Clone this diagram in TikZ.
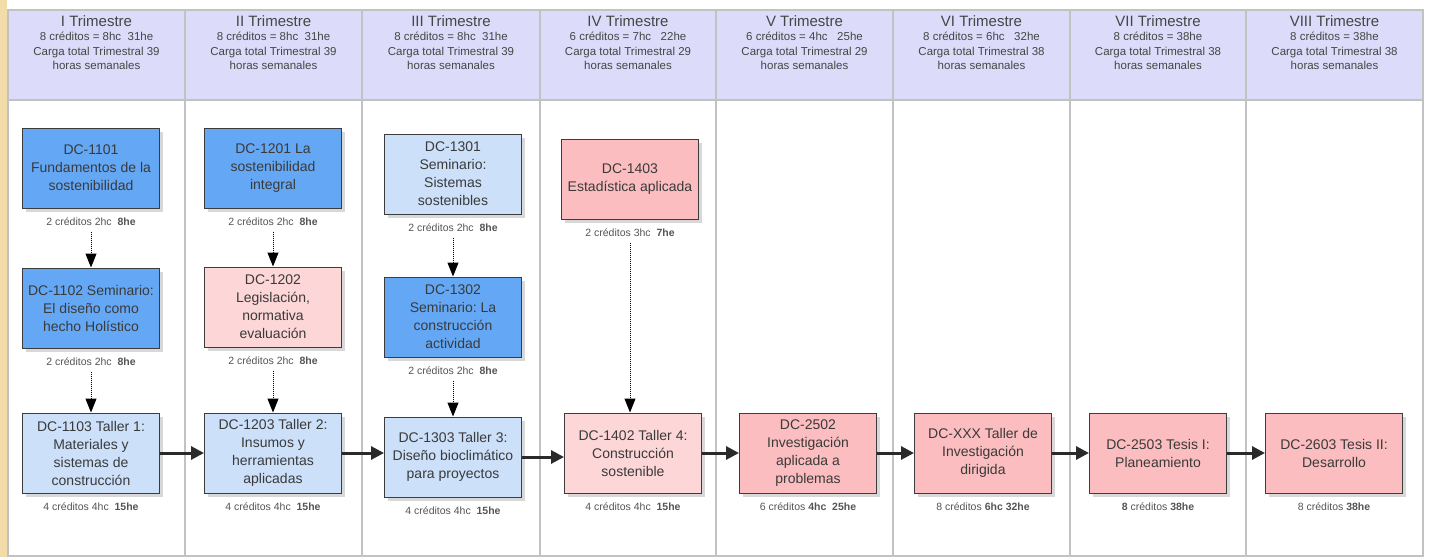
\documentclass[tikz,border=0pt]{standalone}
\usepackage{fontspec}
\setmainfont{Liberation Sans}
\usetikzlibrary{positioning,arrows.meta,shadows}
\frenchspacing

\definecolor{hdrfill}{HTML}{DCDCFA}
\definecolor{gridgray}{HTML}{C2C2C2}
\definecolor{beige}{HTML}{F2DCAA}
\definecolor{dblue}{HTML}{64A8F5}
\definecolor{lblue}{HTML}{CCE0FA}
\definecolor{rosa}{HTML}{FBBDBF}
\definecolor{lrosa}{HTML}{FDD6D7}
\definecolor{boxline}{HTML}{3C3C3C}
\definecolor{boxtext}{HTML}{3A3A3A}
\definecolor{hdrtext}{HTML}{454545}
\definecolor{credtext}{HTML}{555555}
\definecolor{arrowline}{HTML}{2A2A2A}

\tikzset{
	every picture/.append style={font=\fontsize{14}{18}\selectfont},
	mynode/.style = {rectangle, draw=boxline, line width=1pt, align=center, minimum width=137pt, minimum height=80pt, inner sep=2pt, text=boxtext, drop shadow={shadow xshift=3pt, shadow yshift=-4pt, opacity=0.3}},
	mynodeb/.style = {mynode, fill=dblue},
	mynodel/.style = {mynode, fill=lblue},
	mynoder/.style = {mynode, fill=rosa},
	mynodep/.style = {mynode, fill=lrosa},
	credit/.style = {inner sep=1pt, text=credtext, font=\fontsize{10.5}{12}\selectfont},
	header/.style = {anchor=north, align=center, text=hdrtext, font=\fontsize{11.5}{14.5}\selectfont},
	myedge/.style = {draw=black, densely dotted, line width=1pt, -{Triangle[length=14pt,width=11pt]}, shorten <=5pt},
	edgen/.style = {draw=arrowline, line width=3pt, -{Triangle[length=13pt,width=13pt]}}
}

\begin{document}
\begin{tikzpicture}[x=1pt,y=-1pt]
				\useasboundingbox (0,0) rectangle (1429,557);
				\fill[white] (0,0) rectangle (1429,557);
				\fill[beige] (0,0) rectangle (7,557);
				% table
				\fill[hdrfill] (8,10) rectangle (1423,100);
				\draw[gridgray, line width=1.5pt] (8,10) rectangle (1423,556);
				\draw[gridgray, line width=1.5pt] (8,100) -- (1423,100)
					(185,10) -- (185,556) (362,10) -- (362,556) (540,10) -- (540,556)
					(716,10) -- (716,556) (893,10) -- (893,556) (1070,10) -- (1070,556)
					(1246,10) -- (1246,556);
				\node[header] at (96.5,12) (h1) {{\fontsize{15}{19}\selectfont I Trimestre}\\8 créditos = 8hc~~31he\\Carga total Trimestral 39\\horas semanales};
				\node[header] at (273.5,12) (h2) {{\fontsize{15}{19}\selectfont II Trimestre}\\8 créditos = 8hc~~31he\\Carga total Trimestral 39\\horas semanales};
				\node[header] at (451,12) (h3) {{\fontsize{15}{19}\selectfont III Trimestre}\\8 créditos = 8hc~~31he\\Carga total Trimestral 39\\horas semanales};
				\node[header] at (628,12) (h4) {{\fontsize{15}{19}\selectfont IV Trimestre}\\6 créditos = 7hc~~~22he\\Carga total Trimestral 29\\horas semanales};
				\node[header] at (804.5,12) (h5) {{\fontsize{15}{19}\selectfont V Trimestre}\\6 créditos = 4hc~~~25he\\Carga total Trimestral 29\\horas semanales};
				\node[header] at (981.5,12) (h6) {{\fontsize{15}{19}\selectfont VI Trimestre}\\8 créditos = 6hc~~~32he\\Carga total Trimestral 38\\horas semanales};
				\node[header] at (1158,12) (h7) {{\fontsize{15}{19}\selectfont VII Trimestre}\\8 créditos = 38he\\Carga total Trimestral 38\\horas semanales};
				\node[header] at (1334.5,12) (h8) {{\fontsize{15}{19}\selectfont VIII Trimestre}\\8 créditos = 38he\\Carga total Trimestral 38\\horas semanales};
				% courses
				\node[mynodeb] at (91,168) (b1101) {DC-1101\\Fundamentos de la\\sostenibilidad};
				\node[mynodeb] at (91,308) (b1102) {DC-1102 Seminario:\\El diseño como\\hecho Holístico};
				\node[mynodel] at (91,453) (b1103) {DC-1103 Taller 1:\\Materiales y\\sistemas de\\construcción};
				\node[mynodeb] at (273,168) (b1201) {DC-1201 La\\sostenibilidad\\integral};
				\node[mynodep] at (273,307) (b1202) {DC-1202\\Legislación,\\normativa\\evaluación};
				\node[mynodel] at (273,453) (b1203) {DC-1203 Taller 2:\\Insumos y\\herramientas\\aplicadas};
				\node[mynodel] at (453,174) (b1301) {DC-1301\\Seminario:\\Sistemas\\sostenibles};
				\node[mynodeb] at (453,317) (b1302) {DC-1302\\Seminario: La\\construcción\\actividad};
				\node[mynodel] at (453,457) (b1303) {DC-1303 Taller 3:\\Diseño bioclimático\\para proyectos};
				\node[mynoder] at (630,179) (b1403) {DC-1403\\Estadística aplicada};
				\node[mynodep] at (633,453) (b1402) {DC-1402 Taller 4:\\Construcción\\sostenible};
				\node[mynoder] at (808,453) (b2502) {DC-2502\\Investigación\\aplicada a\\problemas};
				\node[mynoder] at (983,453) (bXXX) {DC-XXX Taller de\\Investigación\\dirigida};
				\node[mynoder] at (1158,453) (b2503) {DC-2503 Tesis I:\\Planeamiento};
				\node[mynoder] at (1334,453) (b2603) {DC-2603 Tesis II:\\Desarrollo};
				% credits
				\node[credit, below=8pt of b1101] (c1101) {2 créditos 2hc~~\textbf{8he}};
				\node[credit, below=8pt of b1102] (c1102) {2 créditos 2hc~~\textbf{8he}};
				\node[credit, below=8pt of b1103] (c1103) {4 créditos 4hc~~\textbf{15he}};
				\node[credit, below=8pt of b1201] (c1201) {2 créditos 2hc~~\textbf{8he}};
				\node[credit, below=8pt of b1202] (c1202) {2 créditos 2hc~~\textbf{8he}};
				\node[credit, below=8pt of b1203] (c1203) {4 créditos 4hc~~\textbf{15he}};
				\node[credit, below=8pt of b1301] (c1301) {2 créditos 2hc~~\textbf{8he}};
				\node[credit, below=8pt of b1302] (c1302) {2 créditos 2hc~~\textbf{8he}};
				\node[credit, below=8pt of b1303] (c1303) {4 créditos 4hc~~\textbf{15he}};
				\node[credit, below=8pt of b1403] (c1403) {2 créditos 3hc~~\textbf{7he}};
				\node[credit, below=8pt of b1402] (c1402) {4 créditos 4hc~~\textbf{15he}};
				\node[credit, below=8pt of b2502] (c2502) {6 créditos \textbf{4hc~~25he}};
				\node[credit, below=8pt of bXXX] (cXXX) {8 créditos \textbf{6hc 32he}};
				\node[credit, below=8pt of b2503] (c2503) {\textbf{8} créditos \textbf{38he}};
				\node[credit, below=8pt of b2603] (c2603) {8 créditos \textbf{38he}};
				% prerequisites
				\path (c1101) edge [myedge] (b1102);
				\path (c1102) edge [myedge] (b1103);
				\path (c1201) edge [myedge] (b1202);
				\path (c1202) edge [myedge] (b1203);
				\path (c1301) edge [myedge] (b1302);
				\path (c1302) edge [myedge] (b1303);
				\path (c1403) edge [myedge] (c1403 |- b1402.north);
				% sequence
				\path (b1103.east) edge [edgen] (b1103.east -| b1203.west);
				\path (b1203.east) edge [edgen] (b1203.east -| b1303.west);
				\path (b1303.east) edge [edgen] (b1303.east -| b1402.west);
				\path (b1402.east) edge [edgen] (b1402.east -| b2502.west);
				\path (b2502.east) edge [edgen] (b2502.east -| bXXX.west);
				\path (bXXX.east) edge [edgen] (bXXX.east -| b2503.west);
				\path (b2503.east) edge [edgen] (b2503.east -| b2603.west);
			\end{tikzpicture}
\end{document}
